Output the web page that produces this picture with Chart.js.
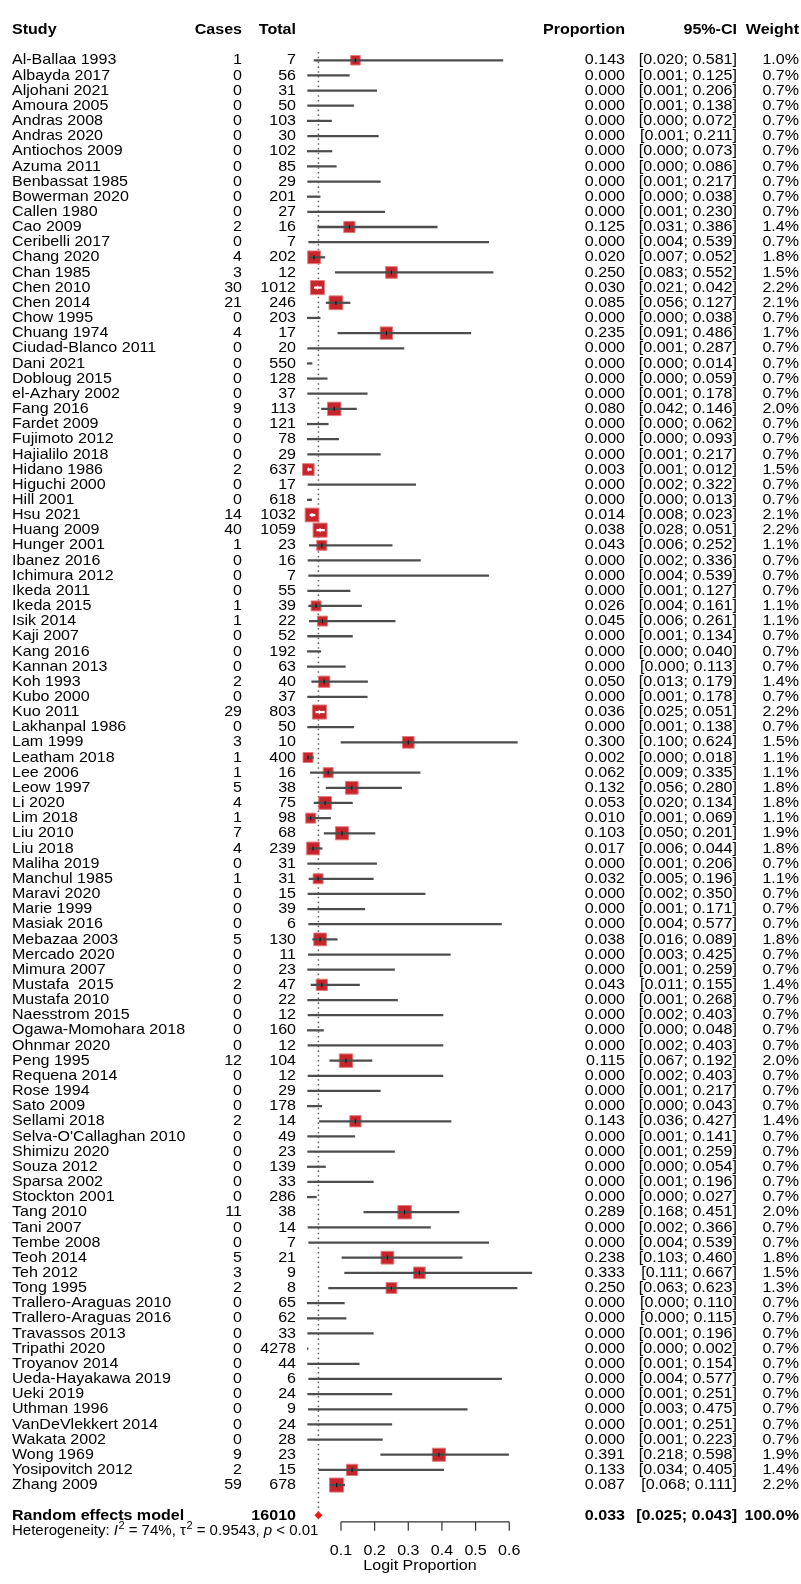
<!DOCTYPE html>
<html>
<head>
<meta charset="utf-8">
<script src="https://cdn.jsdelivr.net/npm/chart.js@4.4.0/dist/chart.umd.min.js"></script>
<style>
    html, body { margin: 0; padding: 0; background: #ffffff; }
    canvas { display: block; }
</style>
</head>
<body>
<canvas id="forestChart" width="801" height="1584"></canvas>
<script>

/* ==========================================
   Data
========================================== */

const studies = [
    'Al-Ballaa 1993', 'Albayda 2017', 'Aljohani 2021', 'Amoura 2005', 'Andras 2008',
    'Andras 2020', 'Antiochos 2009', 'Azuma 2011', 'Benbassat 1985', 'Bowerman 2020',
    'Callen 1980', 'Cao 2009', 'Ceribelli 2017', 'Chang 2020', 'Chan 1985',
    'Chen 2010', 'Chen 2014', 'Chow 1995', 'Chuang 1974', 'Ciudad-Blanco 2011',
    'Dani 2021', 'Dobloug 2015', 'el-Azhary 2002', 'Fang 2016', 'Fardet 2009',
    'Fujimoto 2012', 'Hajialilo 2018', 'Hidano 1986', 'Higuchi 2000', 'Hill 2001',
    'Hsu 2021', 'Huang 2009', 'Hunger 2001', 'Ibanez 2016', 'Ichimura 2012',
    'Ikeda 2011', 'Ikeda 2015', 'Isik 2014', 'Kaji 2007', 'Kang 2016',
    'Kannan 2013', 'Koh 1993', 'Kubo 2000', 'Kuo 2011', 'Lakhanpal 1986',
    'Lam 1999', 'Leatham 2018', 'Lee 2006', 'Leow 1997', 'Li 2020',
    'Lim 2018', 'Liu 2010', 'Liu 2018', 'Maliha 2019', 'Manchul 1985',
    'Maravi 2020', 'Marie 1999', 'Masiak 2016', 'Mebazaa 2003', 'Mercado 2020',
    'Mimura 2007', 'Mustafa  2015', 'Mustafa 2010', 'Naesstrom 2015', 'Ogawa-Momohara 2018',
    'Ohnmar 2020', 'Peng 1995', 'Requena 2014', 'Rose 1994', 'Sato 2009',
    'Sellami 2018', "Selva-O'Callaghan 2010", 'Shimizu 2020', 'Souza 2012', 'Sparsa 2002',
    'Stockton 2001', 'Tang 2010', 'Tani 2007', 'Tembe 2008', 'Teoh 2014',
    'Teh 2012', 'Tong 1995', 'Trallero-Araguas 2010', 'Trallero-Araguas 2016', 'Travassos 2013',
    'Tripathi 2020', 'Troyanov 2014', 'Ueda-Hayakawa 2019', 'Ueki 2019', 'Uthman 1996',
    'VanDeVlekkert 2014', 'Wakata 2002', 'Wong 1969', 'Yosipovitch 2012', 'Zhang 2009'
];

const cases = [
    1, 0, 0, 0, 0, 0, 0, 0, 0, 0,
    0, 2, 0, 4, 3, 30, 21, 0, 4, 0,
    0, 0, 0, 9, 0, 0, 0, 2, 0, 0,
    14, 40, 1, 0, 0, 0, 1, 1, 0, 0,
    0, 2, 0, 29, 0, 3, 1, 1, 5, 4,
    1, 7, 4, 0, 1, 0, 0, 0, 5, 0,
    0, 2, 0, 0, 0, 0, 12, 0, 0, 0,
    2, 0, 0, 0, 0, 0, 11, 0, 0, 5,
    3, 2, 0, 0, 0, 0, 0, 0, 0, 0,
    0, 0, 9, 2, 59
];

const totals = [
    7, 56, 31, 50, 103, 30, 102, 85, 29, 201,
    27, 16, 7, 202, 12, 1012, 246, 203, 17, 20,
    550, 128, 37, 113, 121, 78, 29, 637, 17, 618,
    1032, 1059, 23, 16, 7, 55, 39, 22, 52, 192,
    63, 40, 37, 803, 50, 10, 400, 16, 38, 75,
    98, 68, 239, 31, 31, 15, 39, 6, 130, 11,
    23, 47, 22, 12, 160, 12, 104, 12, 29, 178,
    14, 49, 23, 139, 33, 286, 38, 14, 7, 21,
    9, 8, 65, 62, 33, 4278, 44, 6, 24, 9,
    24, 28, 23, 15, 678
];

const proportions = [
    0.143, 0, 0, 0, 0, 0, 0, 0, 0, 0,
    0, 0.125, 0, 0.020, 0.250, 0.030, 0.085, 0, 0.235, 0,
    0, 0, 0, 0.080, 0, 0, 0, 0.003, 0, 0,
    0.014, 0.038, 0.043, 0, 0, 0, 0.026, 0.045, 0, 0,
    0, 0.050, 0, 0.036, 0, 0.300, 0.002, 0.062, 0.132, 0.053,
    0.010, 0.103, 0.017, 0, 0.032, 0, 0, 0, 0.038, 0,
    0, 0.043, 0, 0, 0, 0, 0.115, 0, 0, 0,
    0.143, 0, 0, 0, 0, 0, 0.289, 0, 0, 0.238,
    0.333, 0.250, 0, 0, 0, 0, 0, 0, 0, 0,
    0, 0, 0.391, 0.133, 0.087
];

const lowerCI = [
    0.020, 0.001, 0.001, 0.001, 0.000, 0.001, 0.000, 0.000, 0.001, 0.000,
    0.001, 0.031, 0.004, 0.007, 0.083, 0.021, 0.056, 0.000, 0.091, 0.001,
    0.000, 0.000, 0.001, 0.042, 0.000, 0.000, 0.001, 0.001, 0.002, 0.000,
    0.008, 0.028, 0.006, 0.002, 0.004, 0.001, 0.004, 0.006, 0.001, 0.000,
    0.000, 0.013, 0.001, 0.025, 0.001, 0.100, 0.000, 0.009, 0.056, 0.020,
    0.001, 0.050, 0.006, 0.001, 0.005, 0.002, 0.001, 0.004, 0.016, 0.003,
    0.001, 0.011, 0.001, 0.002, 0.000, 0.002, 0.067, 0.002, 0.001, 0.000,
    0.036, 0.001, 0.001, 0.000, 0.001, 0.000, 0.168, 0.002, 0.004, 0.103,
    0.111, 0.063, 0.000, 0.000, 0.001, 0.000, 0.001, 0.004, 0.001, 0.003,
    0.001, 0.001, 0.218, 0.034, 0.068
];

const upperCI = [
    0.581, 0.125, 0.206, 0.138, 0.072, 0.211, 0.073, 0.086, 0.217, 0.038,
    0.230, 0.386, 0.539, 0.052, 0.552, 0.042, 0.127, 0.038, 0.486, 0.287,
    0.014, 0.059, 0.178, 0.146, 0.062, 0.093, 0.217, 0.012, 0.322, 0.013,
    0.023, 0.051, 0.252, 0.336, 0.539, 0.127, 0.161, 0.261, 0.134, 0.040,
    0.113, 0.179, 0.178, 0.051, 0.138, 0.624, 0.018, 0.335, 0.280, 0.134,
    0.069, 0.201, 0.044, 0.206, 0.196, 0.350, 0.171, 0.577, 0.089, 0.425,
    0.259, 0.155, 0.268, 0.403, 0.048, 0.403, 0.192, 0.403, 0.217, 0.043,
    0.427, 0.141, 0.259, 0.054, 0.196, 0.027, 0.451, 0.366, 0.539, 0.460,
    0.667, 0.623, 0.110, 0.115, 0.196, 0.002, 0.154, 0.577, 0.251, 0.475,
    0.251, 0.223, 0.598, 0.405, 0.111
];

const weights = [
    1.0, 0.7, 0.7, 0.7, 0.7, 0.7, 0.7, 0.7, 0.7, 0.7,
    0.7, 1.4, 0.7, 1.8, 1.5, 2.2, 2.1, 0.7, 1.7, 0.7,
    0.7, 0.7, 0.7, 2.0, 0.7, 0.7, 0.7, 1.5, 0.7, 0.7,
    2.1, 2.2, 1.1, 0.7, 0.7, 0.7, 1.1, 1.1, 0.7, 0.7,
    0.7, 1.4, 0.7, 2.2, 0.7, 1.5, 1.1, 1.1, 1.8, 1.8,
    1.1, 1.9, 1.8, 0.7, 1.1, 0.7, 0.7, 0.7, 1.8, 0.7,
    0.7, 1.4, 0.7, 0.7, 0.7, 0.7, 2.0, 0.7, 0.7, 0.7,
    1.4, 0.7, 0.7, 0.7, 0.7, 0.7, 2.0, 0.7, 0.7, 1.8,
    1.5, 1.3, 0.7, 0.7, 0.7, 0.7, 0.7, 0.7, 0.7, 0.7,
    0.7, 0.7, 1.9, 1.4, 2.2
];

// random effects model: estimate, lower, upper
const pooled = [0.033, 0.025, 0.043];
const pooledTotal = 16010;

const tickValues = [0.1, 0.2, 0.3, 0.4, 0.5, 0.6];


/* ==========================================
   Layout
========================================== */

const W = 801;
const H = 1584;
const ROW = 15.37;          // px per study row
const FIRST_ROW = 50;       // y of first study
const ZERO_X = 304.7;       // x of proportion 0
const PX_PER_UNIT = 346;    // px per 1.0 proportion
const POOLED_ROW = studies.length + 1;

const FONT = '"Liberation Sans", Arial, Helvetica, sans-serif';
const FONT_SIZE = 15;
const STRETCH = 1.07;

const SQUARE_RED = '#C8242B';
const LINE_GREY = '#4d4d4d';

function squareSide(w) {
    return 9.5 * Math.sqrt(w);
}


/* ==========================================
   Dataset building
========================================== */

const squarePoints = [];
const squareRadius = [];
const tickPoints = [];
const tickColors = [];
const ciColors = [];

studies.forEach(function (name, i) {

    let inside = false;

    if (cases[i] > 0) {

        const side = squareSide(weights[i]);
        const half = side / 2 / PX_PER_UNIT;

        inside = lowerCI[i] >= proportions[i] - half &&
            upperCI[i] <= proportions[i] + half;

        squarePoints.push({ x: proportions[i], y: i });
        squareRadius.push(side / Math.SQRT2);

        tickPoints.push({ x: proportions[i], y: i });
        tickColors.push(inside ? '#ffffff' : '#111111');
    }

    ciColors.push(inside ? '#ffffff' : LINE_GREY);

});

const ciBars = studies.map(function (name, i) {
    return { x: [lowerCI[i], upperCI[i]], y: i };
});


/* ==========================================
   Text + axis plugin
========================================== */

function drawText(ctx, text, x, y, align, weight, style, stretch) {

    ctx.save();
    ctx.font = (style || 'normal') + ' ' + (weight || 'normal') + ' ' + FONT_SIZE + 'px ' + FONT;
    ctx.fillStyle = '#000000';
    ctx.textBaseline = 'middle';
    ctx.translate(x, y);
    ctx.scale(stretch || STRETCH, 1);
    ctx.textAlign = align || 'left';
    ctx.fillText(text, 0, 0);
    ctx.restore();

}

function textWidth(ctx, text, size, style) {

    ctx.save();
    ctx.font = (style || 'normal') + ' normal ' + size + 'px ' + FONT;
    const w = ctx.measureText(text).width;
    ctx.restore();
    return w;

}

const forestText = {

    id: 'forestText',

    beforeDraw: function (chart) {
        const ctx = chart.ctx;
        ctx.save();
        ctx.fillStyle = '#ffffff';
        ctx.fillRect(0, 0, chart.width, chart.height);
        ctx.restore();
    },

    beforeDatasetsDraw: function (chart) {

        const ctx = chart.ctx;
        const xs = chart.scales.x;
        const ys = chart.scales.y;

        // dotted line at the pooled estimate
        const px = xs.getPixelForValue(pooled[0]);

        ctx.save();
        ctx.strokeStyle = '#666666';
        ctx.lineWidth = 1.5;
        ctx.setLineDash([1.6, 3.2]);
        ctx.beginPath();
        ctx.moveTo(px, ys.getPixelForValue(-0.55));
        ctx.lineTo(px, ys.getPixelForValue(POOLED_ROW + 0.3));
        ctx.stroke();
        ctx.restore();

    },

    afterDraw: function (chart) {

        const ctx = chart.ctx;
        const xs = chart.scales.x;
        const ys = chart.scales.y;

        // header
        const hy = ys.getPixelForValue(-2);
        drawText(ctx, 'Study', 12, hy, 'left', 'bold');
        drawText(ctx, 'Cases', 242, hy, 'right', 'bold');
        drawText(ctx, 'Total', 296, hy, 'right', 'bold');
        drawText(ctx, 'Proportion', 625, hy, 'right', 'bold');
        drawText(ctx, '95%-CI', 737, hy, 'right', 'bold');
        drawText(ctx, 'Weight', 799, hy, 'right', 'bold');

        // study rows
        studies.forEach(function (name, i) {

            const y = ys.getPixelForValue(i);

            drawText(ctx, name, 12, y, 'left');
            drawText(ctx, String(cases[i]), 242, y, 'right');
            drawText(ctx, String(totals[i]), 296, y, 'right');
            drawText(ctx, proportions[i].toFixed(3), 625, y, 'right');
            drawText(ctx, '[' + lowerCI[i].toFixed(3) + '; ' + upperCI[i].toFixed(3) + ']', 737, y, 'right');
            drawText(ctx, weights[i].toFixed(1) + '%', 799, y, 'right');

        });

        // random effects model
        const ry = ys.getPixelForValue(POOLED_ROW);
        drawText(ctx, 'Random effects model', 12, ry, 'left', 'bold');
        drawText(ctx, String(pooledTotal), 296, ry, 'right', 'bold');
        drawText(ctx, pooled[0].toFixed(3), 625, ry, 'right', 'bold');
        drawText(ctx, '[' + pooled[1].toFixed(3) + '; ' + pooled[2].toFixed(3) + ']', 737, ry, 'right', 'bold');
        drawText(ctx, '100.0%', 799, ry, 'right', 'bold');

        // heterogeneity line (drawn unstretched)
        const hety = ys.getPixelForValue(POOLED_ROW + 1);
        const parts = [
            { t: 'Heterogeneity: ' },
            { t: 'I', style: 'italic' },
            { t: '2', sup: true },
            { t: ' = 74%, \u03C4' },
            { t: '2', sup: true },
            { t: ' = 0.9543, ' },
            { t: 'p', style: 'italic' },
            { t: ' < 0.01' }
        ];

        let cx = 12;

        parts.forEach(function (part) {

            if (part.sup) {
                ctx.save();
                ctx.font = '11px ' + FONT;
                ctx.fillStyle = '#000000';
                ctx.textBaseline = 'middle';
                ctx.fillText(part.t, cx + 0.5, hety - 5);
                ctx.restore();
                cx += textWidth(ctx, part.t, 11) + 0.5;
            } else {
                drawText(ctx, part.t, cx, hety, 'left', 'normal', part.style, 1);
                cx += textWidth(ctx, part.t, FONT_SIZE, part.style);
            }

        });

        // x axis
        const axisY = ry + 6.5;
        const x0 = xs.getPixelForValue(tickValues[0]);
        const x1 = xs.getPixelForValue(tickValues[tickValues.length - 1]);

        ctx.save();
        ctx.strokeStyle = '#333333';
        ctx.lineWidth = 1.2;
        ctx.beginPath();
        ctx.moveTo(x0, axisY);
        ctx.lineTo(x1, axisY);

        tickValues.forEach(function (v) {
            const tx = xs.getPixelForValue(v);
            ctx.moveTo(tx, axisY);
            ctx.lineTo(tx, axisY + 9);
        });

        ctx.stroke();
        ctx.restore();

        tickValues.forEach(function (v) {
            drawText(ctx, v.toFixed(1), xs.getPixelForValue(v), axisY + 29, 'center');
        });

        drawText(ctx, 'Logit Proportion', 420, axisY + 44, 'center');

    }

};


/* ==========================================
   Chart
========================================== */

document.addEventListener('DOMContentLoaded', function () {

    const canvas = document.getElementById('forestChart');

    const yMin = -FIRST_ROW / ROW;

    new Chart(canvas, {

        type: 'scatter',

        data: {

            datasets: [

                {
                    label: 'squares',
                    data: squarePoints,
                    pointStyle: 'rect',
                    pointRadius: squareRadius,
                    pointHoverRadius: squareRadius,
                    backgroundColor: SQUARE_RED,
                    borderColor: '#E27C7C',
                    borderWidth: 1,
                    order: 4
                },

                {
                    type: 'bar',
                    label: 'ci',
                    indexAxis: 'y',
                    data: ciBars,
                    backgroundColor: ciColors,
                    barThickness: 1.6,
                    grouped: false,
                    borderWidth: 0,
                    order: 3
                },

                {
                    label: 'estimate',
                    data: tickPoints,
                    pointStyle: 'line',
                    rotation: 90,
                    pointRadius: 2.1,
                    pointHoverRadius: 2.1,
                    borderColor: tickColors,
                    borderWidth: 1.1,
                    order: 2
                },

                {
                    label: 'pooled',
                    data: [{ x: pooled[0], y: POOLED_ROW }],
                    pointStyle: 'rectRot',
                    pointRadius: 4,
                    pointHoverRadius: 4,
                    backgroundColor: '#F21818',
                    borderColor: '#F21818',
                    borderWidth: 0,
                    order: 1
                }

            ]

        },

        options: {

            responsive: false,

            devicePixelRatio: 1,

            animation: false,

            events: [],

            layout: {
                padding: 0
            },

            plugins: {
                legend: { display: false },
                tooltip: { enabled: false },
                title: { display: false }
            },

            scales: {

                x: {
                    type: 'linear',
                    display: false,
                    offset: false,
                    min: -ZERO_X / PX_PER_UNIT,
                    max: (W - ZERO_X) / PX_PER_UNIT,
                    grid: { offset: false }
                },

                y: {
                    type: 'linear',
                    display: false,
                    offset: false,
                    reverse: true,
                    min: yMin,
                    max: yMin + H / ROW,
                    grid: { offset: false }
                }

            }

        },

        plugins: [forestText]

    });

});

</script>
</body>
</html>
